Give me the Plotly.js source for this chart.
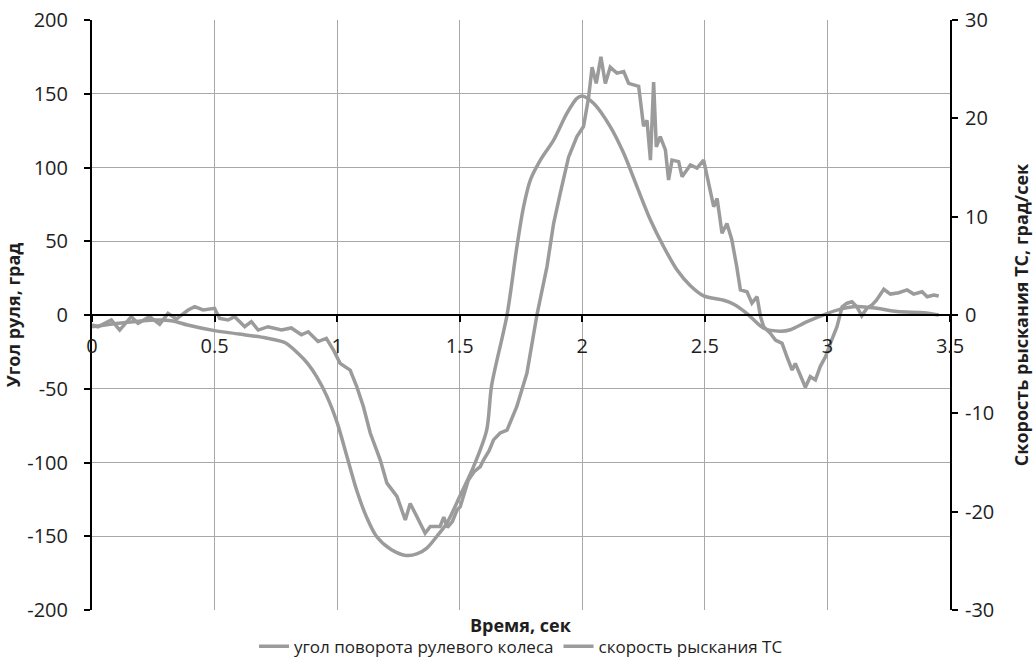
<!DOCTYPE html>
<html>
<head>
<meta charset="utf-8">
<script src="https://cdn.plot.ly/plotly-3.0.1.min.js"></script>
<style>html,body{margin:0;padding:0;background:#fff;}#chart{width:1033px;height:661px;}</style>
</head>
<body>
<div id="chart"></div>
<script>
// Steering wheel angle (left axis, deg)
const steerTime = [0, 0.12, 0.26, 0.33, 0.39, 0.5, 0.6, 0.71, 0.79, 0.84, 0.88, 0.917, 0.958, 1.0, 1.04, 1.08, 1.12, 1.16, 1.22, 1.28, 1.325, 1.366, 1.407, 1.448, 1.5, 1.556, 1.61, 1.63, 1.693, 1.733, 1.76, 1.788, 1.829, 1.883, 1.937, 1.978, 2.0, 2.046, 2.114, 2.169, 2.223, 2.278, 2.332, 2.386, 2.44, 2.495, 2.577, 2.618, 2.672, 2.74, 2.808, 2.849, 2.917, 2.998, 3.053, 3.121, 3.203, 3.284, 3.393, 3.454];
const steerAngle = [-7.9, -5.4, -3.4, -4, -6.8, -10.6, -12.9, -15.6, -19, -26, -33, -42, -55, -73, -96, -119, -137, -150, -159, -163, -162, -158, -150, -141, -123, -103, -78, -48, 0, 46, 73, 91.5, 105, 118.6, 136.7, 146.9, 148.5, 143.5, 127.7, 109.6, 87, 64.4, 46.3, 30.7, 20, 13, 10, 7.3, 1, -9, -11, -10, -4.5, 1, 4, 5.8, 4.5, 2.3, 1.6, 0];

// Vehicle yaw rate (right axis, deg/s)
const yawTime = [0, 0.024, 0.079, 0.113, 0.16, 0.188, 0.235, 0.276, 0.31, 0.344, 0.392, 0.419, 0.453, 0.5, 0.521, 0.555, 0.582, 0.623, 0.65, 0.678, 0.718, 0.773, 0.813, 0.854, 0.882, 0.922, 0.956, 0.985, 1.012, 1.053, 1.08, 1.107, 1.135, 1.176, 1.203, 1.244, 1.278, 1.298, 1.325, 1.359, 1.38, 1.42, 1.435, 1.45, 1.47, 1.49, 1.502, 1.535, 1.56, 1.584, 1.597, 1.62, 1.638, 1.665, 1.693, 1.733, 1.774, 1.815, 1.856, 1.883, 1.91, 1.944, 1.978, 2.005, 2.019, 2.026, 2.04, 2.057, 2.076, 2.094, 2.114, 2.141, 2.169, 2.189, 2.23, 2.25, 2.264, 2.278, 2.291, 2.302, 2.318, 2.339, 2.352, 2.366, 2.393, 2.407, 2.441, 2.468, 2.495, 2.516, 2.536, 2.55, 2.57, 2.59, 2.61, 2.63, 2.645, 2.672, 2.692, 2.713, 2.727, 2.74, 2.767, 2.788, 2.815, 2.835, 2.856, 2.869, 2.89, 2.91, 2.93, 2.951, 2.971, 2.992, 3.012, 3.039, 3.06, 3.08, 3.1, 3.12, 3.14, 3.161, 3.182, 3.2, 3.23, 3.257, 3.291, 3.325, 3.352, 3.386, 3.407, 3.434, 3.454];
const yawRate = [-1.02, -1.2, -0.51, -1.53, -0.17, -0.84, -0.17, -0.95, 0.17, -0.41, 0.51, 0.84, 0.51, 0.68, -0.35, -0.51, -0.17, -1.19, -0.68, -1.53, -1.19, -1.53, -1.32, -2.01, -1.7, -2.7, -2.37, -3.56, -4.92, -5.6, -7.29, -9.3, -12.0, -14.75, -17.1, -18.45, -20.85, -19.16, -20.5, -22.2, -21.5, -21.5, -20.55, -21.6, -21.0, -19.8, -19.5, -16.8, -15.9, -15.42, -14.75, -13.8, -12.7, -12.0, -11.7, -9.3, -5.93, 0, 4.92, 9.3, 12.38, 16.05, 18.15, 19.16, 21.15, 22.2, 25.2, 23.55, 26.25, 23.55, 25.2, 24.6, 24.75, 23.55, 23.25, 19.2, 19.8, 15.75, 23.7, 17.1, 18.15, 16.8, 13.73, 15.75, 15.6, 14.07, 15.26, 14.93, 15.75, 13.35, 11.01, 11.85, 8.31, 9.3, 7.65, 4.92, 2.55, 2.37, 1.2, 1.86, -0.17, -1.19, -1.86, -2.55, -2.88, -4.25, -5.6, -4.92, -6.27, -7.35, -6.27, -6.6, -5.22, -4.25, -2.88, -1.19, 0.84, 1.2, 1.35, 0.84, -0.08, 0.68, 1.02, 1.5, 2.61, 2.13, 2.27, 2.55, 2.13, 2.37, 1.86, 2.04, 1.94];

const xTicks = [0, 0.5, 1, 1.5, 2, 2.5, 3, 3.5];
const yTicks = [-200, -150, -100, -50, 0, 50, 100, 150, 200];
const y2Ticks = [-30, -20, -10, 0, 10, 20, 30];

const seriesNames = ['угол поворота рулевого колеса', 'скорость рыскания ТС'];
const xTitle = 'Время, сек';
const yTitle = 'Угол руля, град';
const y2Title = 'Скорость рыскания ТС, град/сек';

const FONT = 'Open Sans, Noto Sans, sans-serif';
const TXT = '#1e1e1e';
const LINE = '#9b9b9b';
const GRID = '#a8a8a8';

const traces = [
  {x: steerTime, y: steerAngle, name: seriesNames[0], type: 'scatter', mode: 'lines',
   line: {color: LINE, width: 3.5, shape: 'spline', smoothing: 0.8}, yaxis: 'y'},
  {x: yawTime, y: yawRate, name: seriesNames[1], type: 'scatter', mode: 'lines',
   line: {color: LINE, width: 3.5}, yaxis: 'y2'}
];

const layout = {
  width: 1033, height: 661,
  margin: {l: 92, r: 83, t: 20, b: 51, autoexpand: false},
  paper_bgcolor: '#fff', plot_bgcolor: '#fff',
  font: {family: FONT, size: 18, color: TXT},
  showlegend: true,
  legend: {orientation: 'h', x: 0.5, xanchor: 'center', y: -0.062, yanchor: 'middle',
           font: {size: 17}, itemwidth: 30, traceorder: 'normal'},
  xaxis: {
    range: [0, 3.5], tickvals: xTicks, ticktext: xTicks.map(String),
    anchor: 'free', position: 0.5,
    showgrid: true, gridcolor: GRID, gridwidth: 1,
    showline: true, linecolor: '#000', linewidth: 2,
    ticks: 'outside', ticklen: 6, tickwidth: 2, tickcolor: '#000',
    ticklabelstandoff: 7,
    zeroline: false, tickfont: {size: 20}
  },
  yaxis: {
    range: [-200, 200], tickvals: yTicks, ticktext: yTicks.map(String),
    showgrid: true, gridcolor: GRID, gridwidth: 1,
    showline: true, linecolor: '#000', linewidth: 2,
    ticks: 'outside', ticklen: 6, tickwidth: 2, tickcolor: '#000',
    ticklabelstandoff: 12,
    zeroline: false, tickfont: {size: 20},
    title: {text: yTitle, font: {size: 18, weight: 'bold'}, standoff: 2}
  },
  yaxis2: {
    range: [-30, 30], tickvals: y2Ticks, ticktext: y2Ticks.map(String),
    overlaying: 'y', side: 'right', anchor: 'x',
    showgrid: false,
    showline: true, linecolor: '#000', linewidth: 2,
    ticks: 'outside', ticklen: 6, tickwidth: 2, tickcolor: '#000',
    ticklabelstandoff: 3,
    zeroline: false, tickfont: {size: 20},
    title: {text: y2Title, font: {size: 18, weight: 'bold'}, standoff: 22}
  },
  annotations: [
    {text: xTitle, xref: 'paper', yref: 'paper', x: 0.5, y: -0.025, xanchor: 'center', yanchor: 'middle',
     showarrow: false, font: {size: 18, weight: 'bold', color: TXT}}
  ]
};

Plotly.newPlot('chart', traces, layout, {displayModeBar: false, staticPlot: true});
</script>
</body>
</html>
